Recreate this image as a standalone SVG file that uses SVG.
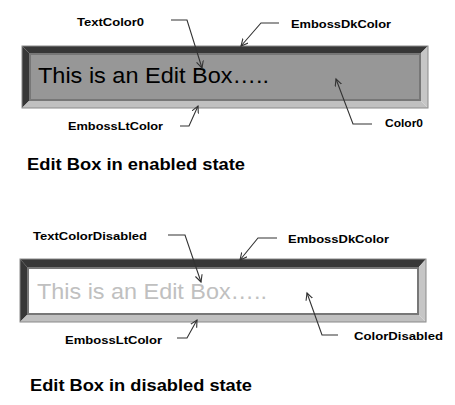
<svg xmlns="http://www.w3.org/2000/svg" width="455" height="405" viewBox="0 0 455 405">
<defs>
<style>
.lbl{font-family:"Liberation Sans",Arial,sans-serif;font-weight:bold;font-size:11.5px;fill:#000}
.cap{font-family:"Liberation Sans",Arial,sans-serif;font-weight:bold;font-size:16.5px;fill:#000}
.boxtxt{font-family:"Liberation Sans",Arial,sans-serif;font-size:22px}
.dk{fill:#373737}
.lt{fill:#c0c0c0}
.ltr{fill:#c6c6c6}
.outer{fill:none;stroke:#8a8a8a;stroke-width:1}
.face{stroke:#777;stroke-width:2}
.conn{fill:none;stroke:#333;stroke-width:1.1;marker-end:url(#arr)}
</style>
<marker id="arr" markerWidth="10" markerHeight="10" refX="7" refY="4" orient="auto" markerUnits="userSpaceOnUse">
<path d="M0,0.5 L7,4 L0,7.5" fill="none" stroke="#333" stroke-width="1.1"/>
</marker>
</defs>
<rect width="455" height="405" fill="#fff"/>

<g id="editbox-enabled">
<polygon class="dk" points="22,46 428,46 420,54 30,54"/>
<polygon class="dk" points="22,46 30,54 30,100 22,108"/>
<polygon class="lt" points="22,108 30,100 420,100 428,108"/>
<polygon class="ltr" points="428,46 428,108 420,100 420,54"/>
<rect class="face" x="30" y="54" width="390" height="46" fill="#979797"/>
<rect class="outer" x="22" y="46" width="406" height="62"/>
<text class="boxtxt" x="38" y="83" fill="#000" textLength="231" lengthAdjust="spacingAndGlyphs">This is an Edit Box…..</text>
</g>

<g id="editbox-disabled">
<polygon class="dk" points="20,259 426,259 418,268 28,268"/>
<polygon class="dk" points="20,259 28,268 28,314 20,322"/>
<polygon class="lt" points="20,322 28,314 418,314 426,322"/>
<polygon class="ltr" points="426,259 426,322 418,314 418,268"/>
<rect class="face" x="28" y="268" width="390" height="46" fill="#fff"/>
<rect class="outer" x="20" y="259" width="406" height="63"/>
<text class="boxtxt" x="37" y="299" fill="#c0c0c0" textLength="230" lengthAdjust="spacingAndGlyphs">This is an Edit Box…..</text>
</g>

<g id="labels-enabled">
<text id="lbl-textcolor0" class="lbl" x="77" y="26" textLength="67" lengthAdjust="spacingAndGlyphs">TextColor0</text>
<text id="lbl-embossdk1" class="lbl" x="291" y="28" textLength="100" lengthAdjust="spacingAndGlyphs">EmbossDkColor</text>
<text id="lbl-embosslt1" class="lbl" x="68" y="130" textLength="95" lengthAdjust="spacingAndGlyphs">EmbossLtColor</text>
<text id="lbl-color0" class="lbl" x="385" y="127" textLength="38" lengthAdjust="spacingAndGlyphs">Color0</text>
<text id="cap-enabled" class="cap" x="27" y="170" textLength="218" lengthAdjust="spacingAndGlyphs">Edit Box in enabled state</text>
</g>

<g id="labels-disabled">
<text id="lbl-textcolordisabled" class="lbl" x="33" y="240" textLength="114" lengthAdjust="spacingAndGlyphs">TextColorDisabled</text>
<text id="lbl-embossdk2" class="lbl" x="288" y="243" textLength="101" lengthAdjust="spacingAndGlyphs">EmbossDkColor</text>
<text id="lbl-embosslt2" class="lbl" x="65" y="344" textLength="97" lengthAdjust="spacingAndGlyphs">EmbossLtColor</text>
<text id="lbl-colordisabled" class="lbl" x="354" y="340" textLength="89" lengthAdjust="spacingAndGlyphs">ColorDisabled</text>
<text id="cap-disabled" class="cap" x="30" y="391" textLength="222" lengthAdjust="spacingAndGlyphs">Edit Box in disabled state</text>
</g>

<g id="connectors">
<polyline class="conn" points="171,20 187,20 202,68"/>
<polyline class="conn" points="279,23 261,23 241,46"/>
<polyline class="conn" points="180,126 189,126 198,106"/>
<polyline class="conn" points="372,124 353,124 336,79"/>
<polyline class="conn" points="168,235 185,235 201,282"/>
<polyline class="conn" points="277,238 258,238 240,260"/>
<polyline class="conn" points="177,338 187,338 197,320"/>
<polyline class="conn" points="338,335 322,335 307,293"/>
</g>
</svg>
